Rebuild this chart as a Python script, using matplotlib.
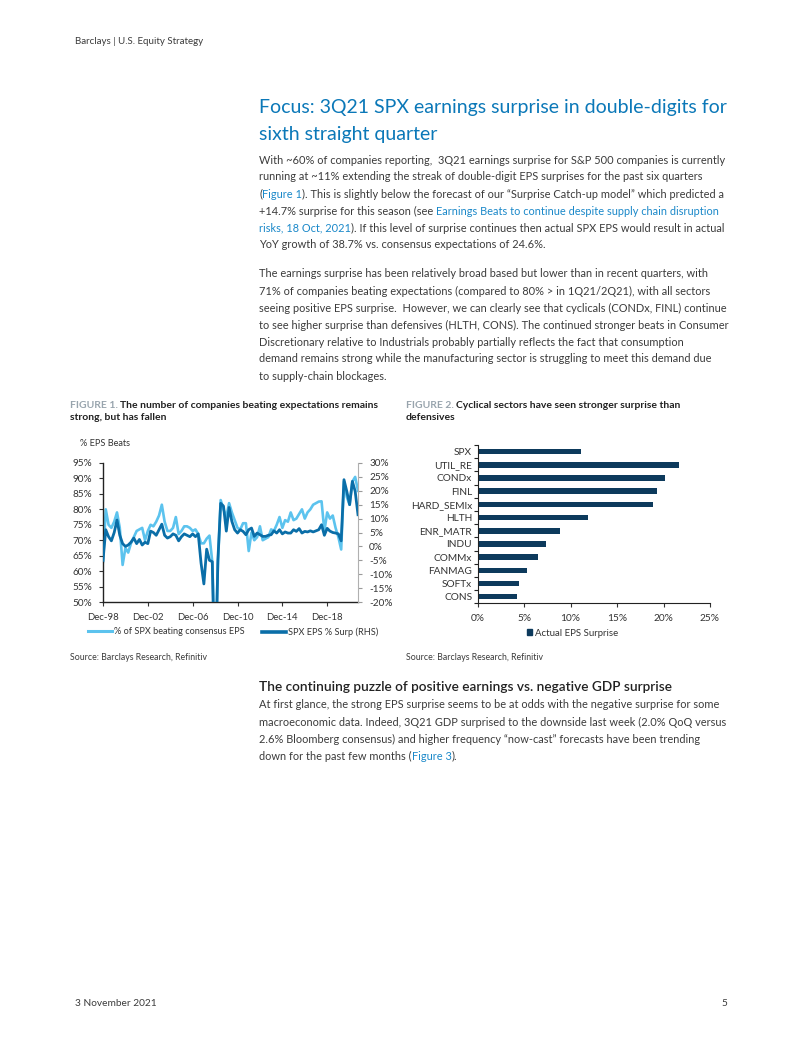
import matplotlib
matplotlib.use('Agg')
import matplotlib.pyplot as plt
import matplotlib.dates as mdates
import numpy as np
import pandas as pd
from matplotlib.lines import Line2D
from matplotlib.patches import Patch

W, H = 802, 1037
plt.rcParams['font.family'] = ['Lato', 'DejaVu Sans']

# ---------------- data ----------------
quarters = pd.date_range('1998-12-31', periods=92, freq='QE')
pct_beating = [63, 80, 75, 74, 76, 79, 74, 62, 67.5, 66,
               69, 71, 73, 73.5, 74, 70, 73, 75, 74.5, 76,
               78, 81.5, 76, 73, 73, 74, 77.5, 72, 73, 74.5,
               74.5, 74, 73, 73.5, 72, 69, 69, 70.5, 71.5, 63,
               30, 62, 83, 80, 77.5, 82, 79, 76.5, 74, 73.5,
               75.5, 75.5, 66.5, 72.5, 70, 71, 74.5, 70, 70.5, 71,
               73.5, 73, 75, 77.5, 74, 76.5, 76, 79, 76.5, 77,
               78.5, 80, 77, 79, 80, 81.5, 82, 82.5, 82.6, 73,
               79, 77, 78, 74, 71, 67, 89, 84, 81.5, 89, 90.5, 86]
eps_surprise = [-5, 6, 3.5, 2, 5, 9.5, 4, 1, 0, 0.5,
                1.5, 3, 1, 2.5, 0.5, 1.5, 1, 5.5, 5, 4,
                6, 8, 4, 3, 3.5, 4.5, 4, 2, 3.5, 4.5,
                4, 3.5, 4.5, 3.5, 4.5, -6, -13.5, -1, -5, -5.5,
                -55, -5, 15.5, 14.5, 5.5, 14, 9, 6, 4.8, 6,
                5.4, 4.2, 6, 6.6, 3.6, 4.8, 4.2, 3.6, 3.6, 4,
                4.2, 5.6, 4.8, 6, 4.5, 5.2, 4.8, 4.8, 6, 5.4,
                6.4, 4.8, 5.4, 5.2, 5.6, 5.2, 5.6, 6, 7.8, 4,
                6.5, 5.5, 5, 4.8, 4.5, 2.0, 24, 19.8, 15, 23.4, 19.8, 11.4]
fig1_xticks = ['1998-12-31', '2002-12-31', '2006-12-31', '2010-12-31', '2014-12-31', '2018-12-31']
left_ticks = [50, 55, 60, 65, 70, 75, 80, 85, 90, 95]
right_ticks = [-20, -15, -10, -5, 0, 5, 10, 15, 20, 25, 30]

sectors = ['SPX', 'UTIL_RE', 'CONDx', 'FINL', 'HARD_SEMIx', 'HLTH', 'ENR_MATR',
           'INDU', 'COMMx', 'FANMAG', 'SOFTx', 'CONS']
sector_surprise = [11.1, 21.7, 20.2, 19.25, 18.85, 11.9, 8.85, 7.35, 6.5, 5.35, 4.45, 4.25]
bar_ticks = [0, 5, 10, 15, 20, 25]

# ---------------- styles ----------------
BODY = '#3b3b3b'
LINK = '#1a88c9'
TITLE = '#0b78b8'
GRAY_CAP = '#98a4ad'
LIGHT = '#5cc3ee'
DARK = '#0a6ea8'
NAVY = '#0d3a5c'
AXC = '#333333'

fig = plt.figure(figsize=(W / 100, H / 100), dpi=100)
renderer = fig.canvas.get_renderer()


def fx(x):
    return x / W


def fy(y):
    return 1 - y / H


def measure(s, size, weight='normal'):
    t1 = fig.text(0, 0, 'x' + s + 'x', fontsize=size, fontweight=weight)
    t2 = fig.text(0, 0, 'xx', fontsize=size, fontweight=weight)
    w = t1.get_window_extent(renderer).width - t2.get_window_extent(renderer).width
    t1.remove()
    t2.remove()
    return w


def fit_size(s, width, weight='normal'):
    return 10 * width / measure(s, 10, weight)


def rich(x, y, segs, size):
    cur = x
    for s, color, weight in segs:
        fig.text(fx(cur), fy(y), s, color=color, fontsize=size, fontweight=weight,
                 va='center', ha='left')
        cur += measure(s, size, weight)


# ---------------- page text ----------------
hs = fit_size('Barclays | U.S. Equity Strategy', 128)
fig.text(fx(75), fy(42), 'Barclays | U.S. Equity Strategy', fontsize=hs, color=BODY, va='center')

ts = fit_size('Focus: 3Q21 SPX earnings surprise in double-digits for', 468)
fig.text(fx(259), fy(108), 'Focus: 3Q21 SPX earnings surprise in double-digits for',
         fontsize=ts, color=TITLE, va='center')
fig.text(fx(259), fy(134), 'sixth straight quarter', fontsize=ts, color=TITLE, va='center')

bs = fit_size('With ~60% of companies reporting,  3Q21 earnings surprise for S&P 500 companies is currently', 463)
p1 = [
    [('With ~60% of companies reporting,  3Q21 earnings surprise for S&P 500 companies is currently', BODY, 'normal')],
    [('running at ~11% extending the streak of double-digit EPS surprises for the past six quarters', BODY, 'normal')],
    [('(', BODY, 'normal'), ('Figure 1', LINK, 'normal'),
     ('). This is slightly below the forecast of our \u201cSurprise Catch-up model\u201d which predicted a', BODY, 'normal')],
    [('+14.7% surprise for this season (see ', BODY, 'normal'),
     ('Earnings Beats to continue despite supply chain disruption', LINK, 'normal')],
    [('risks, 18 Oct, 2021', LINK, 'normal'),
     ('). If this level of surprise continues then actual SPX EPS would result in actual', BODY, 'normal')],
    [('YoY growth of 38.7% vs. consensus expectations of 24.6%.', BODY, 'normal')],
]
for k, segs in enumerate(p1):
    rich(259, 160 + 17 * k, segs, bs)

p2 = ['The earnings surprise has been relatively broad based but lower than in recent quarters, with',
      '71% of companies beating expectations (compared to 80% > in 1Q21/2Q21), with all sectors',
      'seeing positive EPS surprise.  However, we can clearly see that cyclicals (CONDx, FINL) continue',
      'to see higher surprise than defensives (HLTH, CONS). The continued stronger beats in Consumer',
      'Discretionary relative to Industrials probably partially reflects the fact that consumption',
      'demand remains strong while the manufacturing sector is struggling to meet this demand due',
      'to supply-chain blockages.']
for k, s in enumerate(p2):
    rich(259, 274 + 17 * k, [(s, BODY, 'normal')], bs)

# captions
cs = fit_size('FIGURE 1. The number of companies beating expectations remains', 308, 'bold')
rich(70, 405, [('FIGURE 1. ', GRAY_CAP, 'bold'), ('The number of companies beating expectations remains', '#222222', 'bold')], cs)
rich(70, 418, [('strong, but has fallen', '#222222', 'bold')], cs)
rich(406, 405, [('FIGURE 2. ', GRAY_CAP, 'bold'), ('Cyclical sectors have seen stronger surprise than', '#222222', 'bold')], cs)
rich(406, 418, [('defensives', '#222222', 'bold')], cs)

ss = fit_size('Source: Barclays Research, Refinitiv', 137)
fig.text(fx(70), fy(657), 'Source: Barclays Research, Refinitiv', fontsize=ss, color=BODY, va='center')
fig.text(fx(406), fy(657), 'Source: Barclays Research, Refinitiv', fontsize=ss, color=BODY, va='center')

gs = fit_size('The continuing puzzle of positive earnings vs. negative GDP surprise', 411, 'semibold')
fig.text(fx(259), fy(687), 'The continuing puzzle of positive earnings vs. negative GDP surprise',
         fontsize=gs, color='#222222', fontweight='semibold', va='center')
p3 = [
    [('At first glance, the strong EPS surprise seems to be at odds with the negative surprise for some', BODY, 'normal')],
    [('macroeconomic data. Indeed, 3Q21 GDP surprised to the downside last week (2.0% QoQ versus', BODY, 'normal')],
    [('2.6% Bloomberg consensus) and higher frequency \u201cnow-cast\u201d forecasts have been trending', BODY, 'normal')],
    [('down for the past few months (', BODY, 'normal'), ('Figure 3', LINK, 'normal'), (').', BODY, 'normal')],
]
for k, segs in enumerate(p3):
    rich(259, 705 + 17 * k, segs, bs)

fs = fit_size('3 November 2021', 82)
fig.text(fx(75), fy(1004), '3 November 2021', fontsize=fs, color=BODY, va='center')
fig.text(fx(727), fy(1004), '5', fontsize=fs, color=BODY, va='center', ha='right')

# ---------------- Figure 1 ----------------
YT = 7.2     # y tick labels
XT = 6.9     # date labels
LG = 6.6     # legend / axis title
TPX = LG * 100 / 72.0
fig.text(fx(80), fy(444), '% EPS Beats', fontsize=LG, color=AXC, va='center')
ax1 = fig.add_axes([fx(103), fy(602), (358 - 103) / W, (602 - 463) / H])
ax1.plot(quarters, pct_beating, color=LIGHT, lw=1.9, label='% of SPX beating consensus EPS')
ax1.set_ylim(50, 95)
ax1.set_yticks(left_ticks)
ax1.set_yticklabels(['%d%%' % v for v in left_ticks])
ax1.set_xlim(quarters[0], quarters[-1])
ax1.set_xticks(pd.to_datetime(fig1_xticks))
ax1.xaxis.set_major_formatter(mdates.DateFormatter('%b-%y'))
ax1.tick_params(axis='both', colors=AXC, length=3, width=0.8, direction='out')
ax1.tick_params(axis='y', labelsize=YT, pad=5)
ax1.tick_params(axis='x', labelsize=XT, pad=5)
for s in ['top', 'right']:
    ax1.spines[s].set_visible(False)
for s in ['left', 'bottom']:
    ax1.spines[s].set_color('#222222')
    ax1.spines[s].set_linewidth(1.0)
ax1.patch.set_alpha(0)

ax1r = ax1.twinx()
ax1r.plot(quarters, eps_surprise, color=DARK, lw=2.0, label='SPX EPS % Surp (RHS)')
ax1r.set_ylim(-20, 30)
ax1r.set_yticks(right_ticks)
ax1r.set_yticklabels(['%d%%' % v for v in right_ticks])
ax1r.tick_params(axis='y', labelsize=YT, colors='#9a9a9a', labelcolor=AXC, length=3, width=0.8, pad=5)
for s in ['top', 'left', 'bottom']:
    ax1r.spines[s].set_visible(False)
ax1r.spines['right'].set_color('#b0b0b0')
ax1r.set_xlim(quarters[0], quarters[-1])

fig.legend([Line2D([], [], color=LIGHT, lw=2.2)], ['% of SPX beating consensus EPS'], loc='center left',
           bbox_to_anchor=(fx(88), fy(632)), frameon=False, fontsize=LG,
           handlelength=24 / TPX, handletextpad=2 / TPX, labelcolor=AXC,
           borderaxespad=0, borderpad=0)
fig.legend([Line2D([], [], color=DARK, lw=2.6)], ['SPX EPS % Surp (RHS)'], loc='center left',
           bbox_to_anchor=(fx(262), fy(632)), frameon=False, fontsize=LG,
           handlelength=24 / TPX, handletextpad=2 / TPX, labelcolor=AXC,
           borderaxespad=0, borderpad=0)

# ---------------- Figure 2 ----------------
BT = 7.3
ax2 = fig.add_axes([fx(477.7), fy(603.3), (710 - 477.7) / W, (603.3 - 445) / H])
ypos = np.arange(len(sectors))
ax2.barh(ypos, sector_surprise, height=0.42, color=NAVY, label='Actual EPS Surprise')
ax2.set_ylim(len(sectors) - 0.5, -0.5)
ax2.set_yticks(ypos)
ax2.set_yticklabels(sectors)
ax2.set_yticks(np.arange(-0.5, len(sectors), 1.0), minor=True)
ax2.tick_params(axis='y', which='major', length=0, pad=4, labelsize=BT, colors=AXC)
ax2.tick_params(axis='y', which='minor', length=3, width=0.8, direction='out', color='#222222')
ax2.set_xlim(0, 25)
ax2.set_xticks(bar_ticks)
ax2.set_xticklabels(['%d%%' % v for v in bar_ticks])
ax2.tick_params(axis='x', labelsize=BT, colors=AXC, length=3, width=0.8, direction='out', pad=5)
for s in ['top', 'right']:
    ax2.spines[s].set_visible(False)
for s in ['left', 'bottom']:
    ax2.spines[s].set_color('#222222')
ax2.patch.set_alpha(0)
LG2 = 6.9
TPX2 = LG2 * 100 / 72.0
fig.legend([Patch(color=NAVY)], ['Actual EPS Surprise'], loc='center left',
           bbox_to_anchor=(fx(527), fy(633)), frameon=False, fontsize=LG2,
           handlelength=5 / TPX2, handleheight=5 / TPX2, handletextpad=3 / TPX2, labelcolor=AXC,
           borderaxespad=0, borderpad=0)

fig.savefig('out.png', dpi=100)
